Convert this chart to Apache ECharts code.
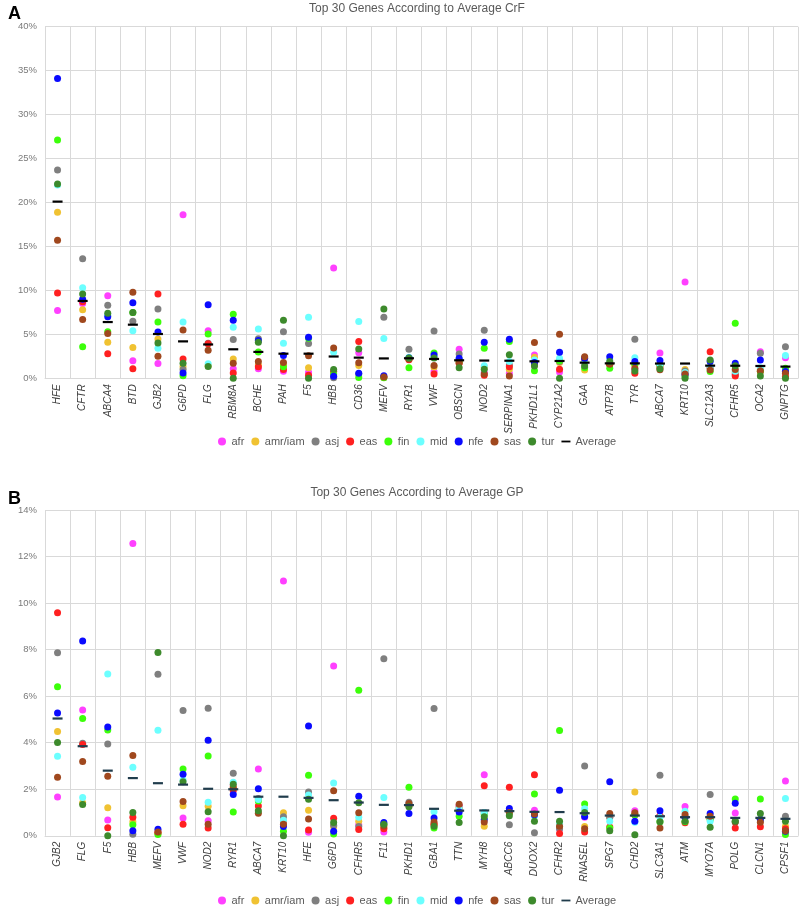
<!DOCTYPE html>
<html>
<head>
<meta charset="utf-8">
<script src="https://cdn.jsdelivr.net/npm/echarts@6/dist/echarts.min.js"></script>
<style>
    body{margin:0;background:#fff;}
    #chart{width:800px;height:910px;}
</style>
</head>
<body>
<div id="chart"></div>
<script>
    // populations shown in both panels
    const popNames = ['afr','amr/iam','asj','eas','fin','mid','nfe','sas','tur'];
    const popColors = ['#ff40ff','#f0c232','#7f7f7f','#ff2020','#3cff0a','#6cffff','#0a0aff','#a0481e','#3d8a2c'];

    // panel A: CrF (%)
    const genesA = ['HFE','CFTR','ABCA4','BTD','GJB2','G6PD','FLG','RBM8A','BCHE','PAH','F5','HBB','CD36','MEFV','RYR1','VWF','OBSCN','NOD2','SERPINA1','PKHD1L1','CYP21A2','GAA','ATP7B','TYR','ABCA7','KRT10','SLC12A3','CFHR5','OCA2','GNPTG'];
    const afrA = [7.7,8.5,9.4,2.0,1.67,18.6,5.41,1.1,1.1,0.8,0.68,12.56,2.9,0.1,2.2,0.76,3.3,0.65,0.57,2.65,0.72,1.6,1.6,1.0,2.87,10.95,1.2,0.48,3.03,2.35];
    const amrA = [18.9,7.8,4.1,3.5,4.48,1.3,1.42,2.2,1.5,1.5,1.2,0.6,1.45,0.1,2.2,1.29,2.0,1.27,1.02,2.39,1.8,0.95,1.6,1.5,1.55,0.99,1.2,0.63,1.0,0.8];
    const asjA = [23.7,13.6,8.3,6.5,7.87,1.0,3.98,4.4,4.5,5.3,3.95,0.07,0.5,6.94,3.3,5.38,2.77,5.48,1.5,1.7,1.9,2.3,1.6,4.44,1.6,0.82,1.2,0.4,2.84,3.6];
    const easA = [9.7,8.7,2.8,1.1,9.59,2.2,3.92,0.6,1.3,1.0,0.35,0.8,4.2,0.15,2.1,0.5,1.7,0.34,1.3,1.5,1.02,2.0,1.6,0.57,1.28,0.6,3.03,0.27,0.76,0.2];
    const finA = [27.1,3.6,5.3,7.5,6.41,0.3,5.04,7.3,3.0,1.3,4.55,0.48,0.08,0.06,1.2,2.87,1.9,3.43,4.2,0.87,2.0,1.2,1.14,1.6,1.5,0.2,0.76,6.25,0.8,1.14];
    const midA = [22.0,10.3,7.2,5.4,3.42,6.4,1.65,5.8,5.6,4.0,6.95,2.95,6.45,4.54,2.4,2.4,2.2,1.44,1.9,2.09,2.28,1.8,2.1,2.35,1.56,0.67,1.3,0.8,1.2,2.58];
    const nfeA = [34.1,9.0,7.0,8.6,5.28,0.6,8.37,6.6,4.3,2.6,4.68,0.22,0.57,0.28,2.3,2.64,2.28,4.11,4.44,1.8,2.96,2.28,2.46,1.9,2.02,0.4,1.9,1.7,2.09,0.76];
    const sasA = [15.7,6.7,5.1,9.8,2.52,5.5,3.19,1.7,1.9,1.8,2.56,3.45,1.78,0.16,2.2,1.47,1.78,0.5,0.27,4.06,5.0,2.46,1.6,1.14,0.97,0.5,0.95,0.99,0.87,0.57];
    const turA = [22.1,9.6,7.4,7.5,4.01,1.7,1.35,0.0,4.1,6.6,0.0,1.0,3.34,7.88,2.3,2.32,1.21,1.03,2.69,1.4,0.0,1.4,1.9,0.83,1.08,0.0,2.09,1.42,0.27,0.0];
    const avgA = [20.1,8.8,6.4,6.1,5.04,4.2,3.85,3.3,3.0,2.8,2.8,2.48,2.35,2.26,2.28,2.2,2.05,2.02,2.0,1.93,1.97,1.78,1.7,1.7,1.68,1.68,1.44,1.43,1.4,1.33];

    // panel B: GP (%)
    const genesB = ['GJB2','FLG','F5','HBB','MEFV','VWF','NOD2','RYR1','ABCA7','KRT10','HFE','G6PD','CFHR5','F11','PKHD1','GBA1','TTN','MYH8','ABCC6','DUOX2','CFHR2','RNASEL','SPG7','CHD2','SLC3A1','ATM','MYO7A','POLG','CLCN1','CPSF1'];
    const afrB = [1.67,5.41,0.68,12.56,0.1,0.76,0.65,2.15,2.87,10.95,0.15,7.3,0.48,0.16,1.35,0.49,1.3,2.62,1.0,1.1,0.3,0.8,0.8,1.08,0.85,1.26,0.75,0.98,0.7,2.36];
    const amrB = [4.48,1.42,1.2,0.6,0.1,1.29,1.27,2.1,1.55,0.99,1.1,0.39,0.63,0.34,1.3,0.5,1.15,0.41,1.0,0.9,0.4,0.4,0.8,1.88,0.85,0.8,0.75,0.6,0.7,0.41];
    const asjB = [7.87,3.98,3.95,0.07,6.94,5.38,5.48,2.69,1.6,0.82,1.88,0.45,0.4,7.61,1.44,5.47,1.1,1.0,0.48,0.13,0.3,3.0,0.8,0.9,2.6,0.8,1.77,0.6,0.7,0.84];
    const easB = [9.59,3.92,0.35,0.8,0.15,0.5,0.34,1.95,1.28,0.6,0.25,0.75,0.27,0.3,1.3,0.5,1.25,2.15,2.09,2.62,0.1,0.16,0.38,0.9,0.85,0.56,0.75,0.33,0.39,0.3];
    const finB = [6.41,5.04,4.55,0.48,0.06,2.87,3.43,1.02,1.5,0.2,2.6,0.08,6.25,0.5,2.09,0.34,0.84,0.92,1.0,1.8,4.52,1.37,0.34,0.9,0.6,0.6,0.7,1.58,1.58,0.06];
    const midB = [3.42,1.65,6.95,2.95,4.54,2.4,1.44,2.3,1.56,0.67,1.75,2.27,0.8,1.65,1.35,1.03,1.2,1.0,1.06,0.84,0.5,1.16,0.62,0.58,0.8,1.06,0.63,0.6,0.7,1.6];
    const nfeB = [5.28,8.37,4.68,0.22,0.28,2.64,4.11,1.78,2.02,0.4,4.72,0.2,1.7,0.57,0.96,0.76,1.02,0.7,1.17,0.9,1.96,0.83,2.32,0.62,1.08,0.8,0.96,1.4,0.7,0.2];
    const sasB = [2.52,3.19,2.56,3.45,0.16,1.47,0.5,2.05,0.97,0.5,0.72,1.94,0.99,0.42,1.39,0.59,1.36,0.59,1.0,0.94,0.41,0.3,0.96,0.99,0.33,0.92,0.84,0.59,0.58,0.22];
    const turB = [4.01,1.35,0.0,1.0,7.88,2.32,1.03,2.22,1.08,0.0,1.57,0.57,1.42,0.5,1.25,0.41,0.57,0.82,0.86,0.63,0.63,1.0,0.22,0.04,0.6,0.63,0.37,0.64,0.96,0.63];
    const avgB = [5.04,3.85,2.8,2.48,2.26,2.2,2.02,2.0,1.68,1.68,1.63,1.53,1.43,1.33,1.32,1.16,1.08,1.09,1.06,1.03,1.02,0.97,0.87,0.87,0.84,0.8,0.8,0.77,0.77,0.73];

    const popsA = [afrA,amrA,asjA,easA,finA,midA,nfeA,sasA,turA];
    const popsB = [afrB,amrB,asjB,easB,finB,midB,nfeB,sasB,turB];

    const grayText = '#595959';
    const gridColor = '#d9d9d9';
    const dashPath = 'path://M0,0H10V2H0Z';

    function xAxisFor(idx, genes){
        return {
            type:'category', gridIndex:idx, data:genes,
            axisLine:{lineStyle:{color:gridColor}},
            axisTick:{show:false},
            splitLine:{show:true, lineStyle:{color:gridColor, width:1}},
            axisLabel:{interval:0, rotate:90, fontStyle:'italic', fontSize:10, color:'#404040',
                fontFamily:'Liberation Sans', margin:6}
        };
    }
    function yAxisFor(idx, max, step){
        return {
            type:'value', gridIndex:idx, min:0, max:max, interval:step,
            axisLine:{show:false}, axisTick:{show:false},
            splitLine:{lineStyle:{color:gridColor, width:1}},
            axisLabel:{formatter:'{value}%', fontSize:9.5, color:'#7a7a7a', fontFamily:'Liberation Sans', margin:8}
        };
    }
    function legendFor(top, avgColor){
        let data = popNames.map(n => ({name:n, icon:'circle'}));
        data.push({name:'Average', icon:dashPath, itemStyle:{color:avgColor}});
        return {
            top:top, left:213, itemWidth:9, itemHeight:8, itemGap:7,
            textStyle:{color:grayText, fontSize:11, fontFamily:'Liberation Sans'},
            data:data, selectedMode:false
        };
    }

    let series = [];
    [[popsA,avgA,0,'#000000'],[popsB,avgB,1,'#203c4c']].forEach(([pops,avg,idx,avgColor]) => {
        pops.forEach((vals,i) => {
            series.push({
                name:popNames[i], type:'scatter', xAxisIndex:idx, yAxisIndex:idx,
                symbol:'circle', symbolSize:7,
                itemStyle:{color:popColors[i], opacity:1},
                data:vals
            });
        });
        series.push({
            name:'Average', type:'scatter', xAxisIndex:idx, yAxisIndex:idx,
            symbol:'rect', symbolSize:[10,2.2],
            itemStyle:{color:avgColor, opacity:1},
            data:avg
        });
    });

    let chart = echarts.init(document.getElementById('chart'));
    chart.setOption({
        animation:false,
        title:[
            {text:'A', left:3, top:0, textStyle:{fontSize:18, fontWeight:'bold', color:'#000', fontFamily:'Liberation Sans'}},
            {text:'Top 30 Genes According to Average CrF', left:412, top:-2, textAlign:'center',
                textStyle:{fontSize:12, fontWeight:'normal', color:grayText, fontFamily:'Liberation Sans'}},
            {text:'B', left:3, top:485, textStyle:{fontSize:18, fontWeight:'bold', color:'#000', fontFamily:'Liberation Sans'}},
            {text:'Top 30 Genes According to Average GP', left:412, top:482, textAlign:'center',
                textStyle:{fontSize:12, fontWeight:'normal', color:grayText, fontFamily:'Liberation Sans'}}
        ],
        legend:[legendFor(431,'#000000'), legendFor(890,'#203c4c')],
        grid:[
            {left:45, top:26.7, width:753, height:351.6},
            {left:45, top:510, width:753, height:325.8}
        ],
        xAxis:[xAxisFor(0,genesA), xAxisFor(1,genesB)],
        yAxis:[yAxisFor(0,40,5), yAxisFor(1,14,2)],
        series:series
    });
    window.addEventListener('resize', chart.resize);
</script>
</body>
</html>
